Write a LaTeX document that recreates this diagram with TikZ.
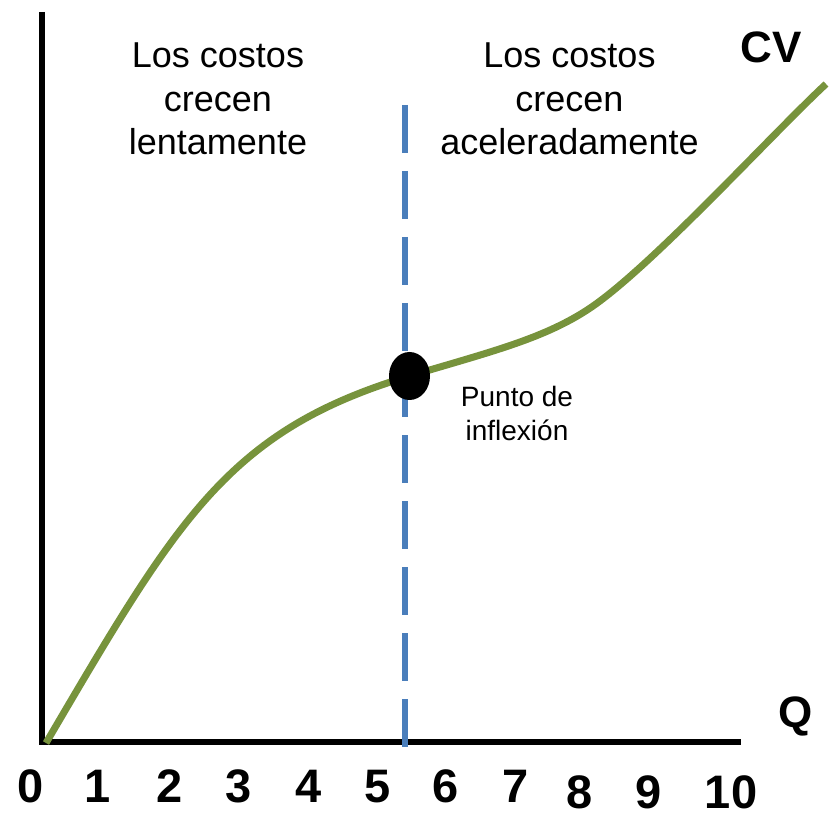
\documentclass[tikz,border=0pt]{standalone}
\usepackage{fontspec}
\setmainfont{Liberation Sans}
\usetikzlibrary{shapes.geometric}
\definecolor{cvgreen}{HTML}{77933C}
\definecolor{guideblue}{HTML}{4A7EBB}
\tikzset{
  axisline/.style={line width=6pt, black},
  cvcurve/.style={line width=7pt, cvgreen},
  guide/.style={line width=6pt, guideblue, dash pattern=on 48pt off 18pt},
  bodytext/.style={font=\fontsize{36}{43.5}\selectfont, align=center, inner sep=0pt, anchor=north},
  smalltext/.style={font=\fontsize{28}{34}\selectfont, align=center, inner sep=0pt, anchor=north},
  bigbold/.style={font=\fontsize{44}{50}\selectfont\bfseries, inner sep=0pt, anchor=base},
  ticklabel/.style={font=\fontsize{47}{52}\selectfont\bfseries, inner sep=0pt, anchor=base},
}
\begin{document}
\begin{tikzpicture}[x=1pt,y=1pt]
\useasboundingbox (0,0) rectangle (835,815);
% axes
\coordinate (ytop) at (42,803);
\coordinate (origin) at (42,73.5);
\coordinate (xend) at (741,73.5);
\draw[axisline] (ytop) -- (42,70.5);
\draw[axisline] (39,73.5) -- (xend);
% guide line
\coordinate (gtop) at (405,710);
\coordinate (gbot) at (405,68);
\draw[guide] (gtop) -- (gbot);
% CV curve
\coordinate (c0) at (46,72);
\coordinate (cin) at (409.5,439);
\coordinate (ck) at (600,514);
\coordinate (cend) at (826,731);
\draw[cvcurve] (c0) .. controls (177.6,296) and (227.5,384.5) .. (cin)
  .. controls (495.7,464.8) and (552,478) .. (ck)
  .. controls (664,562) and (774.7,683.4) .. (cend);
% inflection point
\node[ellipse, fill=black, minimum width=41pt, minimum height=48pt, inner sep=0pt] (ip) at (cin) {};
% texts
\node[bodytext] (left) at (218,772) {Los costos\\crecen\\lentamente};
\node[bodytext] (right) at (569.5,772) {Los costos\\crecen\\aceleradamente};
\node[smalltext] (pi) at (517,429) {Punto de\\inflexión};
\node[bigbold] (cv) at (771,752) {CV};
\node[bigbold] (q) at (795.5,88) {Q};
% tick labels
\node[ticklabel] (t0) at (31,13) {0};
\node[ticklabel] (t1) at (98,13) {1};
\node[ticklabel] (t2) at (170,13) {2};
\node[ticklabel] (t3) at (239,12.5) {3};
\node[ticklabel] (t4) at (309,12.5) {4};
\node[ticklabel] (t5) at (378,12.5) {5};
\node[ticklabel] (t6) at (446,12.5) {6};
\node[ticklabel] (t7) at (516,13) {7};
\node[ticklabel] (t8) at (580,7) {8};
\node[ticklabel] (t9) at (649,7) {9};
\node[ticklabel] (t10) at (731,7) {10};
\end{tikzpicture}
\end{document}
